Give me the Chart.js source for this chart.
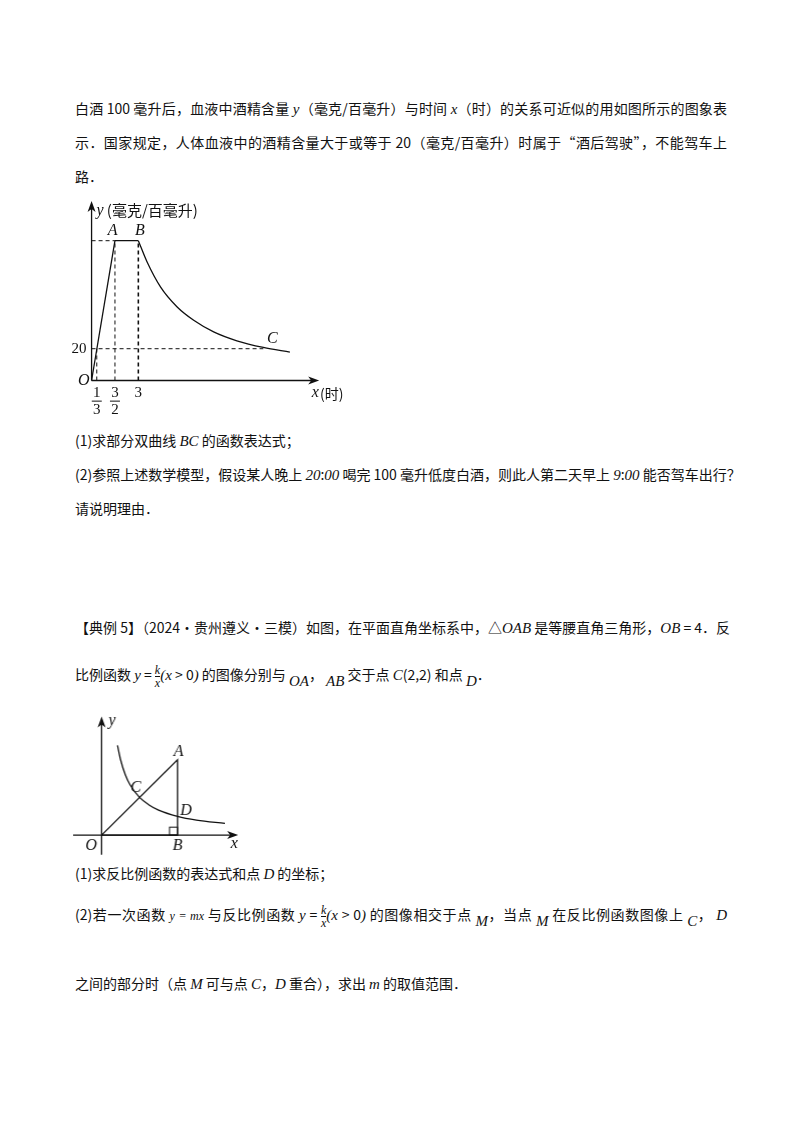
<!DOCTYPE html>
<html><head><meta charset="utf-8">
<script src="https://cdn.jsdelivr.net/npm/chart.js@4/dist/chart.umd.min.js"></script>
<style>
body{margin:0;background:#fff;width:800px;height:1132px;position:relative;font-family:"Noto Sans CJK SC","Noto Sans",sans-serif;color:#111}
.t{position:absolute;left:75px;font-size:14px;white-space:nowrap;line-height:20px}
.j{width:652px;text-align:justify;text-align-last:justify}
i{font-family:"Liberation Serif",serif;font-size:15px}
.fr{display:inline-block;vertical-align:middle;text-align:center;font-size:12px;line-height:12px;font-family:"Liberation Serif",serif;font-style:italic}
.fr span{display:block}
.fr span:first-child{border-bottom:1px solid #111}
canvas{position:absolute}
#w1{position:absolute;left:43.7px;top:196.7px;width:313.4px;height:224px}
#w2{position:absolute;left:63px;top:711.5px;width:180.5px;height:152px}
</style></head><body>
<div class="t j" style="top:98px">白酒 100 毫升后，血液中酒精含量 <i>y</i>（毫克/百毫升）与时间 <i>x</i>（时）的关系可近似的用如图所示的图象表</div>
<div class="t j" style="top:132px">示．国家规定，人体血液中的酒精含量大于或等于 20（毫克/百毫升）时属于“酒后驾驶”，不能驾车上</div>
<div class="t" style="top:166px">路．</div>
<div class="t" style="top:430px">(1)求部分双曲线 <i>BC</i> 的函数表达式；</div>
<div class="t j" style="top:464px">(2)参照上述数学模型，假设某人晚上 <i>20</i>:<i>00</i> 喝完 100 毫升低度白酒，则此人第二天早上 <i>9</i>:<i>00</i> 能否驾车出行？</div>
<div class="t" style="top:498px">请说明理由．</div>
<div class="t j" style="top:617px">【典例 5】（2024·贵州遵义·三模）如图，在平面直角坐标系中，△<i>OAB</i> 是等腰直角三角形，<i>OB</i> = 4．反</div>
<div class="t" style="top:664px">比例函数 <i>y</i> = <span class="fr"><span>k</span><span>x</span></span><i>(x</i> &gt; 0<i>)</i> 的图像分别与 <i style="position:relative;top:6px">OA</i>， <i style="position:relative;top:6px">AB</i> 交于点 <i>C</i>(2,2) 和点 <i style="position:relative;top:6px">D</i>．</div>
<div class="t" style="top:863px">(1)求反比例函数的表达式和点 <i>D</i> 的坐标；</div>
<div class="t j" style="top:904px">(2)若一次函数 <i style="font-size:12px">y = mx</i> 与反比例函数 <i>y</i> = <span class="fr"><span>k</span><span>x</span></span><i>(x</i> &gt; 0<i>)</i> 的图像相交于点 <i style="position:relative;top:6px">M</i>，当点 <i style="position:relative;top:6px">M</i> 在反比例函数图像上 <i style="position:relative;top:6px">C</i>， <i>D</i></div>
<div class="t" style="top:973px">之间的部分时（点 <i>M</i> 可与点 <i>C</i>，<i>D</i> 重合），求出 <i>m</i> 的取值范围．</div>
<div id="w1"><canvas id="c1"></canvas></div>
<div id="w2"><canvas id="c2"></canvas></div>
<script>
// Figure 1 data
const riseX=[0,1.5], riseY=[0,88];
const flatX=[1.5,3], flatY=[88,88];
const curveX=[3,3.57,4.43,5.49,6.55,7.83,9.32,11.02,12.72];
const curveY=[88,74.4,58.75,46.25,37.9,30.6,25,20.8,17.9];
const xTicks1=["1/3","3/2","3"], xTickVals1=[1/3,1.5,3];
// Figure 2 data
const hypX=[0.84,1,1.25,1.5,2,2.5,3,4,5,6.5];
const hypY=[4.76,4,3.2,2.67,2,1.6,1.33,1,0.8,0.62];
const triX=[0,4,4], triY=[0,4,0];
const pts=(xs,ys)=>xs.map((x,i)=>({x,y:ys[i]}));
const line=(d,o={})=>Object.assign({data:d,showLine:true,borderColor:'#111',borderWidth:1.3,pointRadius:0,tension:0,fill:false},o);
const ser="italic 16px 'Liberation Serif',serif";
function deco(cfg){return{id:'deco',afterDatasetsDraw(ch){const c=ch.ctx,X=ch.scales.x,Y=ch.scales.y;
 const px=v=>X.getPixelForValue(v),py=v=>Y.getPixelForValue(v);
 c.save();c.fillStyle='#111';c.strokeStyle='#111';
 cfg.arrows.forEach(a=>{const x=px(a[0]),y=py(a[1]);c.beginPath();
  if(a[2]==='r'){c.moveTo(x,y);c.lineTo(x-11,y-4);c.lineTo(x-8,y);c.lineTo(x-11,y+4);}
  else{c.moveTo(x,y);c.lineTo(x-4,y+11);c.lineTo(x,y+8);c.lineTo(x+4,y+11);}
  c.closePath();c.fill();});
 c.textAlign='center';c.textBaseline='middle';
 cfg.labels.forEach(l=>{c.font=l[3]||ser;c.fillText(l[2],px(l[0]),py(l[1]));});
 (cfg.fracs||[]).forEach(f=>{const x=px(f[0]),y=py(f[1]);c.font="15px 'Liberation Serif',serif";c.fillText(f[2],x,y-8);c.fillText(f[3],x,y+9);c.lineWidth=1;c.beginPath();c.moveTo(x-5,y);c.lineTo(x+5,y);c.stroke();});
 (cfg.sq||[]).forEach(s=>{c.lineWidth=1;c.strokeRect(px(s[0]-s[2]),py(s[1]+s[2]),px(s[2])-px(0),py(0)-py(s[2]));});
 c.restore();}}}
const baseOpts=(xr,yr)=>({animation:false,responsive:true,maintainAspectRatio:false,layout:{padding:0},
 plugins:{legend:{display:false},tooltip:{enabled:false}},
 scales:{x:{type:'linear',min:xr[0],max:xr[1],display:false},y:{type:'linear',min:yr[0],max:yr[1],display:false}}});
const dash={borderDash:[4,3],borderWidth:1};
new Chart(document.getElementById('c1'),{type:'scatter',data:{datasets:[
 line(pts([0,14.1],[0,0])),line(pts([0,0],[0,110])),
 line(pts([0,1.5],[88,88]),dash),line(pts([0,11.02],[20,20]),dash),
 line(pts([xTickVals1[0],xTickVals1[0]],[0,20]),dash),line(pts([1.5,1.5],[0,88]),dash),line(pts([3,3],[0,88]),{borderDash:[4,3],borderWidth:1.6}),
 line(pts(riseX,riseY)),line(pts(flatX,flatY)),line(pts(curveX,curveY),{tension:0.4,cubicInterpolationMode:'monotone'})
]},options:baseOpts([-3,17],[-25,115]),plugins:[deco({arrows:[[14.6,0,'r'],[0,113,'u']],
 labels:[[3.9,107,'(毫克/百毫升)',"15px 'Noto Sans CJK SC'"],[0.55,107,'y'],[1.35,94,'A'],[3.1,94,'B'],[11.6,26,'C'],[-0.5,0,'O'],[-0.8,20,'20',"15px 'Liberation Serif',serif"],[3,-8,'3',"15px 'Liberation Serif',serif"],[14.35,-8,'x'],[15.4,-8,'(时)',"14px 'Noto Sans CJK SC'"]],
 fracs:[[1/3,-13,'1','3'],[1.5,-13,'3','2']]})]});
new Chart(document.getElementById('c2'),{type:'scatter',data:{datasets:[
 line(pts([-1.5,6.9],[0,0])),line(pts([0,0],[-1.05,6.05])),
 line(pts([...triX,0],[...triY,0])),line(pts(hypX,hypY),{tension:0.4,cubicInterpolationMode:'monotone'})
]},options:baseOpts([-2,7.5],[-1.5,6.5]),plugins:[deco({arrows:[[7.2,0,'r'],[0,6.3,'u']],
 labels:[[0.55,6.05,'y'],[4.05,4.4,'A'],[1.8,2.5,'C'],[4.45,1.3,'D'],[-0.55,-0.55,'O'],[4,-0.55,'B'],[7.0,-0.45,'x']],
 sq:[[4,0,0.42]]})]});
</script></body></html>
